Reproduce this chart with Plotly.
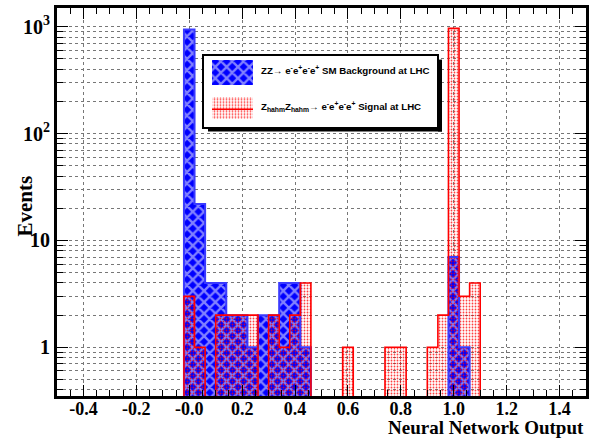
import numpy as np
import plotly.graph_objects as go

# Binning of the network-output histograms: 50 bins of width 0.04 on [-0.5, 1.5]
bin_lo, bin_hi, n_bins = -0.5, 1.5, 50

# ZZ -> 4e SM background: non-empty bins (bin centre, events)
bkg_centers = [0.00, 0.04, 0.08, 0.12, 0.16, 0.20, 0.24, 0.28, 0.32, 0.36, 0.40, 0.44, 1.00, 1.04]
bkg_counts = [944, 22, 4, 4, 2, 2, 1, 2, 2, 4, 4, 1, 7, 1]

# Z_hahm Z_hahm -> 4e signal: non-empty bins (bin centre, events)
sig_centers = [0.00, 0.04, 0.12, 0.16, 0.20, 0.24, 0.32, 0.36, 0.40, 0.44, 0.60, 0.76, 0.80, 0.92, 0.96,
               1.00, 1.04, 1.08]
sig_counts = [3, 1, 2, 2, 2, 2, 2, 1, 2, 4, 1, 1, 1, 1, 2, 966, 3, 4]

x_tick_vals = [-0.4, -0.2, 0.0, 0.2, 0.4, 0.6, 0.8, 1.0, 1.2, 1.4]
x_tick_text = ["-0.4", "-0.2", "-0.0", "0.2", "0.4", "0.6", "0.8", "1.0", "1.2", "1.4"]
y_tick_vals = [1, 10, 100, 1000]
y_tick_text = ["1", "10", "10<sup>2</sup>", "10<sup>3</sup>"]

bkg_label = "ZZ\u2192 e<sup>-</sup>e<sup>+</sup>e<sup>-</sup>e<sup>+</sup> SM Background at LHC"
sig_label = ("Z<sub>hahm</sub>Z<sub>hahm</sub>\u2192 e<sup>-</sup>e<sup>+</sup>e<sup>-</sup>e<sup>+</sup>"
             " Signal at LHC")

W, H = 602, 442
plot_l, plot_r, plot_t, plot_b = 57, 586, 5, 396

edges = np.linspace(bin_lo, bin_hi, n_bins + 1)
bin_w = edges[1] - edges[0]


def full_hist(centers, counts):
    h = np.zeros(n_bins)
    idx = np.floor((np.asarray(centers) - bin_lo) / bin_w).astype(int)
    h[idx] = counts
    return h


def step_outline(h, floor=1e-3):
    xs, ys = [edges[0]], [floor]
    for i in range(n_bins):
        v = h[i] if h[i] > 0 else floor
        xs += [edges[i], edges[i + 1]]
        ys += [v, v]
    xs.append(edges[-1])
    ys.append(floor)
    return xs, ys


# pixel position -> paper fraction (paper spans the plotting area)
def px_x(p):
    return (p - plot_l) / (plot_r - plot_l)


def px_y(p):
    return (plot_b - p) / (plot_b - plot_t)


BLUE = "#0000ff"
RED = "#ff0000"
SERIF = "Liberation Serif"
SANS = "Liberation Sans"

bkg_pattern = dict(shape="x", fillmode="overlay", fgcolor="white", size=8, solidity=0.5)
sig_pattern = dict(shape=".", fillmode="replace", fgcolor="rgba(255,0,0,0.75)", size=3, solidity=0.28)

fig = go.Figure()

h_bkg = full_hist(bkg_centers, bkg_counts)
h_sig = full_hist(sig_centers, sig_counts)

fig.add_trace(go.Bar(x=bkg_centers, y=bkg_counts, width=bin_w,
                     marker=dict(color=BLUE, line=dict(width=0), pattern=bkg_pattern),
                     showlegend=False, hoverinfo="skip"))
bx, by = step_outline(h_bkg)
fig.add_trace(go.Scatter(x=bx, y=by, mode="lines", line=dict(color="#3a3aff", width=2),
                         showlegend=False, hoverinfo="skip"))
fig.add_trace(go.Bar(x=sig_centers, y=sig_counts, width=bin_w,
                     marker=dict(color=RED, line=dict(width=0), pattern=sig_pattern),
                     showlegend=False, hoverinfo="skip"))
sx, sy = step_outline(h_sig)
fig.add_trace(go.Scatter(x=sx, y=sy, mode="lines", line=dict(color=RED, width=1.6),
                         showlegend=False, hoverinfo="skip"))

# Legend box drawn as a small inset frame with its own swatches
box_l, box_r, box_t, box_b = 204, 437, 53, 124.5
bw, bh = box_r - box_l, box_b - box_t


def bx_(p):
    return (p - box_l) / bw


def by_(p):
    return 1 - (p - box_t) / bh


fig.add_trace(go.Bar(x=[(bx_(212) + bx_(253)) / 2], y=[by_(57) - by_(82)], base=[by_(82)],
                     width=[bx_(253) - bx_(212)], xaxis="x2", yaxis="y2",
                     marker=dict(color=BLUE, line=dict(width=0), pattern=bkg_pattern),
                     showlegend=False, hoverinfo="skip"))
fig.add_trace(go.Bar(x=[(bx_(212) + bx_(253)) / 2], y=[by_(94) - by_(116)], base=[by_(116)],
                     width=[bx_(253) - bx_(212)], xaxis="x2", yaxis="y2",
                     marker=dict(color=RED, line=dict(width=0), pattern=sig_pattern),
                     showlegend=False, hoverinfo="skip"))
fig.add_trace(go.Scatter(x=[bx_(212), bx_(253)], y=[by_(107), by_(107)], mode="lines",
                         xaxis="x2", yaxis="y2", line=dict(color=RED, width=1.5),
                         showlegend=False, hoverinfo="skip"))

# drop shadow of the legend box
shadow = 4
fig.add_shape(type="rect", xref="paper", yref="paper", layer="above",
              x0=px_x(box_r + 1), x1=px_x(box_r + 1 + shadow), y0=px_y(box_t + shadow),
              y1=px_y(box_b + 1 + shadow), fillcolor="black", line=dict(width=0))
fig.add_shape(type="rect", xref="paper", yref="paper", layer="above",
              x0=px_x(box_l + shadow), x1=px_x(box_r + 1 + shadow), y0=px_y(box_b + 1),
              y1=px_y(box_b + 1 + shadow), fillcolor="black", line=dict(width=0))

fig.add_annotation(text=bkg_label, xref="paper", yref="paper", x=px_x(259), y=px_y(67),
                   xanchor="left", yanchor="middle", showarrow=False,
                   font=dict(family=SANS, size=9.7, color="black", weight="bold"))
fig.add_annotation(text=sig_label, xref="paper", yref="paper", x=px_x(259), y=px_y(104),
                   xanchor="left", yanchor="middle", showarrow=False,
                   font=dict(family=SANS, size=9.7, color="black", weight="bold"))

# axis titles
fig.add_annotation(text="Neural Network Output", xref="paper", yref="paper", x=px_x(586), y=px_y(428),
                   xanchor="right", yanchor="middle", showarrow=False,
                   font=dict(family=SERIF, size=19, color="black", weight="bold"))
fig.add_annotation(text="Events", xref="paper", yref="paper", x=px_x(25), y=px_y(205),
                   xanchor="center", yanchor="middle", showarrow=False, textangle=-90,
                   font=dict(family=SERIF, size=21, color="black", weight="bold"))

grid = dict(color="#777777", dash="dot", width=1)
y_minor = sorted({m * 10 ** e for e in range(-1, 4) for m in range(2, 10)
                  if 0.35 <= m * 10 ** e <= 1500} | {0.4, 0.5, 0.6, 0.7, 0.8, 0.9})

fig.update_layout(
    width=W, height=H,
    margin=dict(l=plot_l, r=W - plot_r, t=plot_t, b=H - plot_b),
    paper_bgcolor="white", plot_bgcolor="white",
    barmode="overlay", bargap=0,
    showlegend=False,
    xaxis=dict(range=[bin_lo, bin_hi], tickmode="array", tickvals=x_tick_vals, ticktext=x_tick_text,
               ticks="inside", ticklen=11, tickwidth=1, tickcolor="black",
               showline=True, linewidth=3, linecolor="black", mirror="allticks",
               showgrid=True, gridcolor=grid["color"], griddash=grid["dash"], gridwidth=1,
               zeroline=False, ticklabelstandoff=-6,
               tickfont=dict(family=SERIF, size=18, color="black", weight="bold"),
               minor=dict(tickmode="linear", tick0=0, dtick=0.05, ticks="inside", ticklen=6,
                          tickcolor="black", showgrid=False)),
    yaxis=dict(type="log", range=[np.log10(0.35), np.log10(1500)],
               tickmode="array", tickvals=y_tick_vals, ticktext=y_tick_text,
               ticks="inside", ticklen=11, tickwidth=1, tickcolor="black",
               showline=True, linewidth=3, linecolor="black", mirror="allticks",
               showgrid=True, gridcolor=grid["color"], griddash=grid["dash"], gridwidth=1,
               zeroline=False,
               tickfont=dict(family=SERIF, size=20, color="black", weight="bold"),
               minor=dict(tickmode="array", tickvals=y_minor, ticks="inside", ticklen=6,
                          tickcolor="black", showgrid=True, gridcolor=grid["color"],
                          griddash=grid["dash"], gridwidth=1)),
    xaxis2=dict(domain=[px_x(box_l), px_x(box_r)], anchor="y2", range=[0, 1],
                showline=True, mirror=True, linewidth=2, linecolor="black",
                showgrid=False, zeroline=False, showticklabels=False, ticks=""),
    yaxis2=dict(domain=[px_y(box_b), px_y(box_t)], anchor="x2", range=[0, 1],
                showline=True, mirror=True, linewidth=2, linecolor="black",
                showgrid=False, zeroline=False, showticklabels=False, ticks=""),
)

fig.write_html("out.html")
